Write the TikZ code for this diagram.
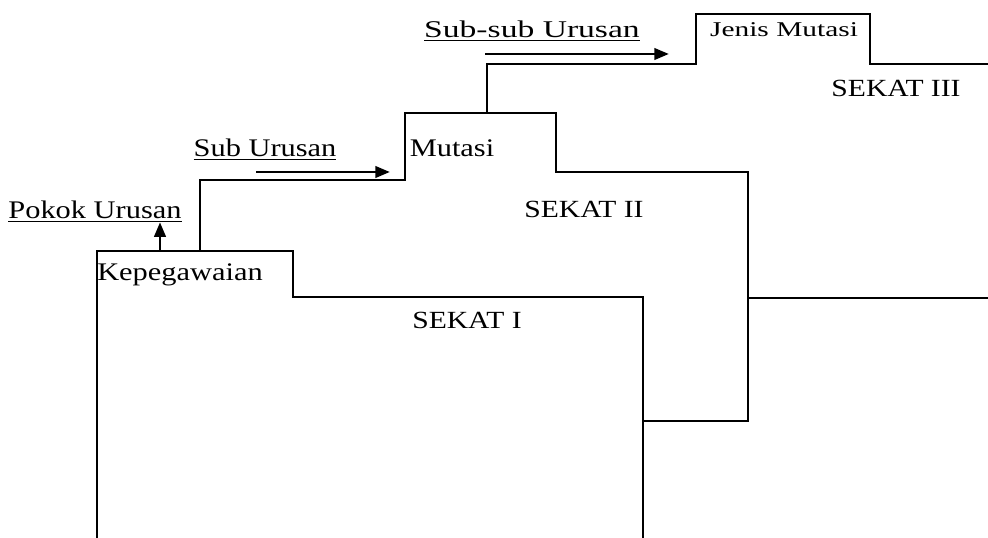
\documentclass[tikz,border=0pt]{standalone}
\usepackage{fontspec}
\setmainfont[FakeStretch=1.2]{Liberation Serif}
\newfontfamily\lebar[FakeStretch=1.4]{Liberation Serif}
\usetikzlibrary{arrows.meta}
\begin{document}
\begin{tikzpicture}
  [x=0.75pt, y=-0.75pt,
   sekat/.style={
    draw=black,
    line width=1.8pt,
    line join=miter},
   judul/.style={
    anchor=base,
    inner sep=0pt,
    font=\fontsize{18.5}{20}\selectfont},
   tab/.style={
    anchor=base,
    inner sep=0pt,
    font=\fontsize{19}{21}\selectfont},
   urusan/.style={
    anchor=base,
    inner sep=0pt,
    font=\fontsize{19}{21}\selectfont},
   panah/.style={
    line width=2.2pt,
    -{Triangle[length=11pt,width=8.5pt]}}]

  \useasboundingbox (0,0) rectangle (988,538);

  \draw [sekat] (97,538) -- (97,251) -- (293,251) -- (293,297) -- (643,297) -- (643,538);
  \draw [sekat] (200,251) -- (200,180) -- (405,180) -- (405,113) -- (556,113) -- (556,172)
    -- (748,172) -- (748,421) -- (643,421);
  \draw [sekat] (487,113) -- (487,64) -- (696,64) -- (696,14) -- (870,14) -- (870,64) -- (988,64);
  \draw [sekat] (748,298) -- (988,298);

  \node [tab] at (180,280) (kepeg) {Kepegawaian};
  \node [tab] at (452,157) (mutasi) {Mutasi};
  \node [tab, font=\lebar\fontsize{15.75}{17}\selectfont] at (784,37) (jenis) {Jenis Mutasi};

  \node [judul] at (467,328) (sekatI) {SEKAT I};
  \node [judul] at (584,218) (sekatII) {SEKAT II};
  \node [judul] at (896,97) (sekatIII) {SEKAT III};

  \node [urusan] at (95,219) (pokok) {\underline{Pokok Urusan}};
  \node [urusan] at (265,157) (sub) {\underline{Sub Urusan}};
  \node [urusan, font=\lebar\fontsize{18}{20}\selectfont] at (532,38) (subsub) {\underline{Sub-sub Urusan}};

  \coordinate (a1) at (160,251);
  \coordinate (b1) at (256,172);
  \coordinate (b2) at (390,172);
  \coordinate (c1) at (485,54);
  \coordinate (c2) at (669,54);

  \draw [panah] (a1) -- (a1 |- pokok.south);
  \draw [panah] (b1) -- (b2);
  \draw [panah] (c1) -- (c2);
\end{tikzpicture}
\end{document}
